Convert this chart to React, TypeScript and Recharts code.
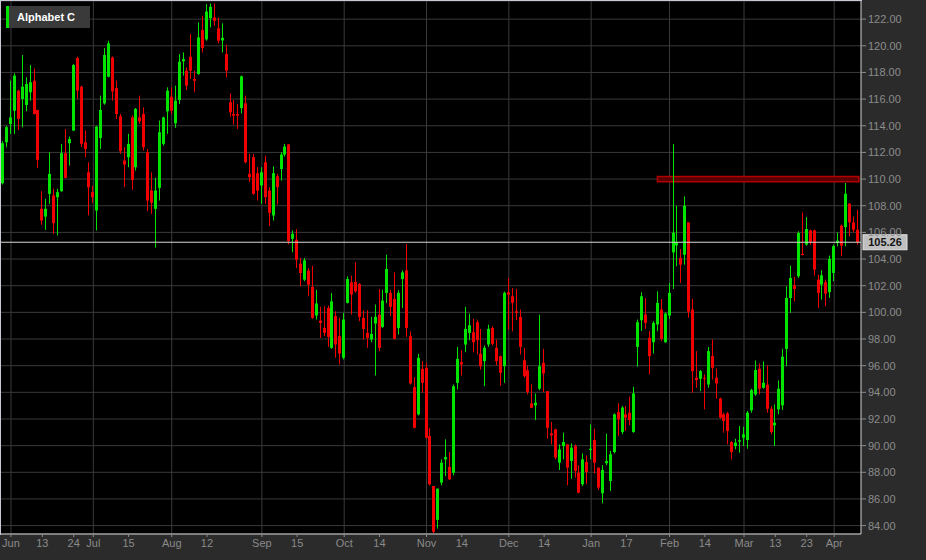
import React from 'react';
import { ComposedChart, Bar, XAxis, YAxis, CartesianGrid, ReferenceLine, ReferenceArea } from 'recharts';

const GREEN = '#00e400';
const RED = '#f00000';
const FIRST_INDEX = -3;
const SERIES_NAME = 'Alphabet C';
const LAST_PRICE = 105.26;

// trading-day index -3 .. 216
const opens = [
  106.39, 109.69, 112.76,
  114.13, 115.13, 116.63, 116.01, 115.56, 116.51, 117.38, 115.18, 107.77, 107.19,
  108.89, 108.77, 108.64, 109.09, 111.94, 112.69, 113.64, 119.08, 116.93, 112.76,
  110.51, 109.02, 107.64, 113.09, 115.68, 117.68, 119.13, 116.83, 114.71, 111.39,
  111.64, 114.63, 110.89, 114.63, 114.88, 112.01, 109.14, 107.77, 109.34, 112.64,
  115.08, 116.18, 114.18, 115.93, 118.83, 118.13, 119.18, 117.51, 117.88, 121.18,
  120.48, 122.07, 122.12, 121.3, 120.4, 119.38, 115.76, 114.88, 114.88, 115.33,
  115.68, 110.39, 111.64, 110.44, 109.52, 111.26, 109.14, 107.27, 110.21, 110.76,
  111.84, 112.59, 105.52, 105.45, 103.65, 102.45, 103.13, 101.91, 99.76, 99.38,
  98.83, 100.33, 97.34, 99.71, 98.21, 96.59, 100.71, 102.25, 102.28, 102.13,
  99.58, 98.46, 97.96, 99.16, 99.83, 98.91, 101.46, 101.46, 101.0, 98.83,
  102.5, 103.15, 98.21, 94.39, 92.34, 95.76, 95.84, 90.72, 86.97, 84.43,
  87.22, 88.97, 88.4, 87.97, 94.71, 96.26, 97.59, 98.46, 98.51, 99.26,
  96.89, 96.34, 97.59, 98.83, 97.34, 96.71, 95.96, 101.51, 101.21, 100.08,
  99.66, 96.41, 95.66, 93.17, 93.02, 94.27, 96.21, 94.09, 90.92, 91.22,
  88.72, 89.97, 90.09, 88.85, 89.97, 87.97, 87.1, 88.77, 89.67, 90.42,
  88.35, 86.43, 88.68, 87.35, 89.52, 92.52, 91.02, 92.35, 92.47, 91.02,
  97.41, 99.41, 99.84, 98.09, 97.76, 99.09, 100.21, 97.76, 99.76, 104.5,
  105.02, 104.08, 104.33, 106.75, 100.21, 95.09, 95.02, 95.09, 94.59, 96.72,
  95.09, 93.54, 92.35, 92.42, 90.27, 89.97, 90.3, 90.6, 90.42, 92.65,
  93.85, 95.77, 94.34, 94.57, 92.77, 91.52, 92.72, 93.02, 97.26, 101.08,
  102.01, 102.71, 104.38, 105.08, 106.15, 106.15, 102.46, 102.08, 102.26, 101.51,
  102.96, 105.2, 106.5, 106.4, 108.15, 106.75, 106.2,
];
const highs = [
  109.0, 112.84, 114.0,
  117.38, 117.93, 116.7, 119.3, 117.63, 118.55, 118.3, 115.2, 109.09, 108.52,
  112.01, 109.27, 109.27, 112.64, 113.76, 113.19, 118.63, 119.18, 117.0, 113.64,
  111.26, 109.5, 114.0, 116.26, 119.83, 120.38, 119.2, 117.38, 114.88, 112.39,
  113.39, 114.76, 115.33, 116.26, 115.38, 112.26, 110.51, 110.09, 114.38, 114.68,
  116.88, 116.88, 117.01, 119.38, 119.5, 118.38, 120.88, 118.13, 121.75, 122.25,
  123.12, 123.17, 123.17, 122.12, 121.68, 120.08, 116.43, 115.93, 115.63, 117.76,
  116.26, 111.89, 111.89, 110.89, 110.89, 111.76, 109.39, 110.96, 110.39, 112.01,
  112.64, 112.64, 106.14, 106.25, 104.08, 104.08, 103.33, 103.5, 101.7, 100.41,
  100.46, 100.51, 101.45, 100.08, 99.58, 99.96, 102.7, 102.75, 103.75, 102.2,
  100.16, 100.16, 99.66, 100.58, 101.76, 101.7, 104.33, 101.7, 103.0, 101.66,
  103.15, 105.13, 98.58, 95.14, 96.89, 96.34, 96.21, 91.34, 86.97, 86.77,
  88.97, 90.47, 89.52, 94.59, 97.41, 97.16, 100.41, 99.91, 99.51, 99.41,
  98.76, 97.51, 99.08, 98.96, 97.96, 96.76, 101.56, 102.58, 101.83, 101.76,
  100.21, 97.34, 96.01, 94.59, 93.91, 99.83, 97.26, 94.09, 91.77, 91.27,
  90.09, 90.97, 90.09, 90.17, 90.09, 88.52, 89.42, 89.27, 91.59, 91.27,
  88.35, 88.53, 90.9, 89.6, 92.42, 93.17, 92.97, 92.97, 93.67, 94.42,
  99.46, 101.5, 101.08, 98.6, 99.34, 101.58, 101.0, 100.0, 102.21, 112.62,
  108.0, 104.75, 108.7, 106.75, 101.0, 97.09, 95.67, 95.34, 97.41, 97.96,
  95.77, 93.6, 92.47, 92.52, 90.34, 90.52, 91.47, 91.42, 92.6, 94.27,
  96.39, 96.17, 96.32, 96.02, 92.97, 93.1, 94.89, 97.26, 101.95, 103.5,
  102.66, 106.08, 107.5, 107.15, 106.2, 106.2, 102.83, 103.16, 102.46, 104.26,
  105.08, 105.98, 106.58, 109.7, 108.2, 107.2, 107.7,
];
const lows = [
  105.5, 109.59, 112.39,
  113.39, 113.39, 113.69, 113.89, 115.08, 115.88, 114.85, 110.84, 106.57, 106.19,
  108.14, 105.89, 105.77, 109.05, 110.05, 111.01, 113.6, 116.01, 112.39, 111.64,
  107.27, 108.2, 106.14, 112.26, 115.58, 117.63, 115.88, 114.51, 111.89, 109.39,
  110.89, 109.19, 110.64, 114.13, 112.14, 107.59, 107.39, 104.85, 108.39, 112.51,
  113.39, 114.88, 113.84, 115.63, 117.76, 116.68, 117.51, 116.51, 117.83, 119.5,
  120.38, 121.38, 121.5, 120.18, 119.5, 117.63, 114.68, 114.08, 113.76, 114.93,
  111.19, 109.77, 108.82, 108.39, 108.14, 108.14, 106.47, 106.89, 108.09, 109.89,
  111.69, 105.1, 104.5, 103.33, 101.95, 102.33, 101.2, 99.51, 99.46, 98.08,
  98.21, 97.41, 97.26, 96.59, 96.09, 96.46, 100.66, 99.83, 101.46, 99.33,
  97.96, 97.34, 97.76, 95.26, 97.09, 98.83, 100.71, 99.71, 97.96, 98.33,
  100.33, 98.16, 94.59, 91.29, 92.27, 93.97, 90.52, 87.02, 83.43, 83.78,
  87.02, 87.72, 87.42, 87.77, 94.21, 95.26, 97.01, 97.91, 97.01, 96.84,
  95.71, 94.46, 97.41, 97.51, 96.01, 94.51, 94.71, 98.71, 98.58, 99.41,
  96.84, 95.09, 93.84, 92.84, 91.92, 94.16, 94.01, 90.52, 90.09, 88.97,
  88.17, 88.97, 87.02, 87.52, 87.6, 86.42, 86.97, 87.1, 88.97, 87.92,
  86.67, 85.68, 88.53, 86.6, 89.42, 90.72, 90.85, 91.1, 91.52, 90.97,
  95.92, 98.6, 98.76, 95.34, 96.91, 98.59, 97.84, 97.71, 99.5, 101.76,
  103.46, 102.21, 103.58, 99.6, 93.97, 94.34, 94.09, 92.72, 94.34, 94.97,
  93.52, 92.02, 90.97, 90.1, 88.97, 89.72, 89.47, 89.97, 89.77, 92.47,
  93.72, 93.85, 94.27, 92.47, 90.85, 89.97, 92.35, 92.67, 95.96, 99.96,
  100.83, 102.58, 104.28, 105.0, 105.08, 102.76, 100.34, 100.96, 100.46, 101.08,
  102.33, 104.95, 104.21, 104.95, 105.7, 106.0, 105.08,
];
const closes = [
  108.89, 112.69, 113.89,
  114.63, 117.76, 114.51, 116.93, 117.13, 117.26, 114.88, 111.44, 106.89, 107.77,
  110.39, 106.69, 109.02, 111.94, 110.09, 113.01, 118.55, 116.63, 112.64, 112.26,
  109.39, 108.64, 113.93, 115.18, 119.3, 120.18, 116.58, 114.88, 112.09, 111.09,
  112.64, 109.94, 115.26, 114.33, 112.39, 108.39, 108.22, 109.14, 113.51, 114.63,
  116.63, 115.13, 115.88, 118.8, 119.0, 117.01, 118.13, 117.38, 120.63, 119.83,
  122.57, 122.92, 121.88, 120.38, 120.6, 118.13, 115.01, 114.76, 114.76, 117.71,
  111.26, 110.14, 108.89, 109.14, 110.51, 108.64, 107.47, 110.44, 109.39, 111.84,
  112.44, 105.35, 105.89, 103.95, 102.95, 103.9, 102.08, 99.58, 100.66, 99.21,
  98.46, 98.16, 100.83, 97.59, 96.91, 99.46, 102.5, 101.33, 101.58, 99.66,
  98.76, 98.08, 98.38, 99.66, 97.34, 100.88, 103.25, 100.41, 98.01, 101.46,
  103.0, 98.83, 94.66, 91.34, 96.59, 94.71, 90.59, 87.1, 83.53, 86.77,
  88.72, 89.15, 87.47, 94.46, 96.51, 96.09, 98.76, 99.03, 97.76, 97.91,
  95.96, 97.34, 98.76, 97.64, 96.34, 95.46, 101.46, 101.33, 100.71, 99.96,
  97.41, 95.21, 94.02, 92.84, 93.22, 95.96, 95.41, 91.34, 90.77, 89.1,
  89.72, 90.27, 88.35, 89.85, 88.1, 86.47, 88.97, 88.02, 89.77, 88.72,
  86.85, 88.18, 88.85, 89.35, 92.35, 91.97, 92.85, 92.1, 91.92, 93.92,
  99.26, 101.21, 99.21, 96.72, 99.21, 100.71, 98.01, 99.91, 101.46, 105.98,
  105.27, 103.58, 108.0, 100.05, 95.59, 94.92, 95.59, 95.02, 97.09, 95.84,
  94.67, 92.1, 91.85, 91.1, 89.52, 90.22, 90.4, 90.85, 92.47, 94.17,
  95.67, 94.27, 94.72, 92.77, 91.02, 91.72, 94.27, 96.67, 101.08, 102.58,
  101.76, 105.95, 104.3, 106.25, 105.25, 103.21, 101.46, 102.78, 101.41, 104.01,
  104.96, 105.38, 105.0, 108.9, 106.75, 106.2, 105.26,
];

const tickIdx = [0, 8, 16, 21, 30, 41, 50, 64, 73, 85, 94, 106, 115, 127, 136, 148, 157, 168, 177, 187, 195, 203, 210];
const tickLabels = ['Jun', '13', '24', 'Jul', '15', 'Aug', '12', 'Sep', '15', 'Oct', '14', 'Nov', '14', 'Dec', '14', 'Jan', '17', 'Feb', '14', 'Mar', '13', '23', 'Apr'];
const monthIdx = [0, 21, 41, 64, 85, 106, 127, 148, 168, 187, 210];
const priceTicks = [84, 86, 88, 90, 92, 94, 96, 98, 100, 102, 104, 106, 108, 110, 112, 114, 116, 118, 120, 122];

const zoneFrom = 164.9;
const zoneTo = 216.3;
const zoneLow = 109.8;
const zoneHigh = 110.2;

const data = opens.map((o, k) => ({
  i: FIRST_INDEX + k,
  o,
  h: highs[k],
  l: lows[k],
  c: closes[k],
  range: [lows[k], highs[k]],
}));

const applyScale = (s: any, v: number): number | undefined => {
  if (!s) return undefined;
  if (typeof s === 'function') return s(v);
  if (typeof s.map === 'function') return s.map(v);
  if (typeof s.scale === 'function') return s.scale(v);
  return undefined;
};

const Candle = (props: any) => {
  const { x, y, width, height, payload } = props;
  if (x == null || y == null || !payload) return null;
  const { o, c, h, l } = payload;
  const color = c >= o ? GREEN : RED;
  const top = Math.min(y, y + height);
  const hh = Math.abs(height);
  const cx = Math.floor(x + width / 2) + 0.5;
  const span = h - l;
  const ratio = span > 0 ? hh / span : 0;
  const yTop = top + (h - Math.max(o, c)) * ratio;
  const yBot = top + (h - Math.min(o, c)) * ratio;
  const bodyH = Math.max(1, yBot - yTop);
  return (
    <g>
      <line x1={cx} x2={cx} y1={top} y2={top + Math.max(hh, 1)} stroke={color} strokeWidth={1} />
      <rect x={cx - 1.5} y={yTop} width={3} height={bodyH} fill={color} />
    </g>
  );
};

const PriceTag = (props: any) => {
  const vb = props.viewBox;
  if (!vb) return null;
  const x = vb.x + vb.width + 2;
  const y = vb.y;
  return (
    <g>
      <rect x={x} y={y - 7.5} width={44} height={15} fill="#bfbfbf" stroke="#e2e2e2" strokeWidth={1} />
      <text x={x + 22} y={y + 4} textAnchor="middle" fontSize={11} fontWeight="bold" fill="#151515"
        fontFamily='"Liberation Sans", Arial, sans-serif'>
        {LAST_PRICE.toFixed(2)}
      </text>
    </g>
  );
};

const fontFam = '"Liberation Sans", Arial, sans-serif';

export default function App() {
  return (
    <div style={{ position: 'absolute', left: 0, top: 0, width: 926, height: 560, background: '#2b2b2b', overflow: 'hidden' }}>
      <ComposedChart width={926} height={560} data={data} margin={{ top: 1, right: 0, bottom: 0, left: 0 }}>
        <CartesianGrid
          stroke="#3a3a3a"
          fill="#000000"
          verticalCoordinatesGenerator={(p: any) => {
            const s = p && p.xAxis ? p.xAxis.scale : null;
            return monthIdx
              .map((m) => applyScale(s, m))
              .filter((v) => typeof v === 'number' && isFinite(v as number)) as number[];
          }}
        />
        <XAxis
          dataKey="i"
          type="number"
          domain={[-2.806, 216.84]}
          allowDataOverflow
          ticks={tickIdx}
          interval={0}
          tickFormatter={(v: number) => tickLabels[tickIdx.indexOf(v)] ?? ''}
          tick={{ fill: '#8a8a8a', fontSize: 11, fontFamily: fontFam }}
          tickLine={{ stroke: '#8a8a8a' }}
          tickSize={3}
          axisLine={{ stroke: '#d4d4d4' }}
          height={26}
        />
        <YAxis
          orientation="right"
          type="number"
          domain={[83.37, 123.36]}
          allowDataOverflow
          ticks={priceTicks}
          interval={0}
          tickFormatter={(v: number) => v.toFixed(2)}
          tick={{ fill: '#8c8c8c', fontSize: 11, fontFamily: fontFam, textAnchor: 'start' }}
          tickLine={{ stroke: '#8c8c8c' }}
          tickSize={5}
          axisLine={{ stroke: '#d4d4d4' }}
          width={65}
        />
        <ReferenceArea x1={zoneFrom} x2={zoneTo} y1={zoneLow} y2={zoneHigh} fill="#5a0000" fillOpacity={1} stroke="#b00000" strokeWidth={1.5} ifOverflow="visible" />
        <Bar dataKey="range" barSize={3} isAnimationActive={false} shape={(p: any) => <Candle {...p} />} />
        <ReferenceLine y={LAST_PRICE} stroke="#d8d8d8" strokeWidth={1} label={(p: any) => <PriceTag {...p} />} />
      </ComposedChart>
      <div style={{ position: 'absolute', left: 0, top: 0, width: 862, height: 1, background: '#c8c8d4' }} />
      <div style={{ position: 'absolute', left: 0, top: 0, width: 1, height: 535, background: '#c8c8d4' }} />
      <div style={{ position: 'absolute', left: 6, top: 6, height: 22, display: 'flex' }}>
        <div style={{ width: 3, background: GREEN }} />
        <div style={{ width: 81, boxSizing: 'border-box', background: '#3a3a3a', color: '#ffffff', fontFamily: fontFam, fontSize: 11, fontWeight: 'bold', lineHeight: '22px', paddingLeft: 8 }}>
          {SERIES_NAME}
        </div>
      </div>
    </div>
  );
}
